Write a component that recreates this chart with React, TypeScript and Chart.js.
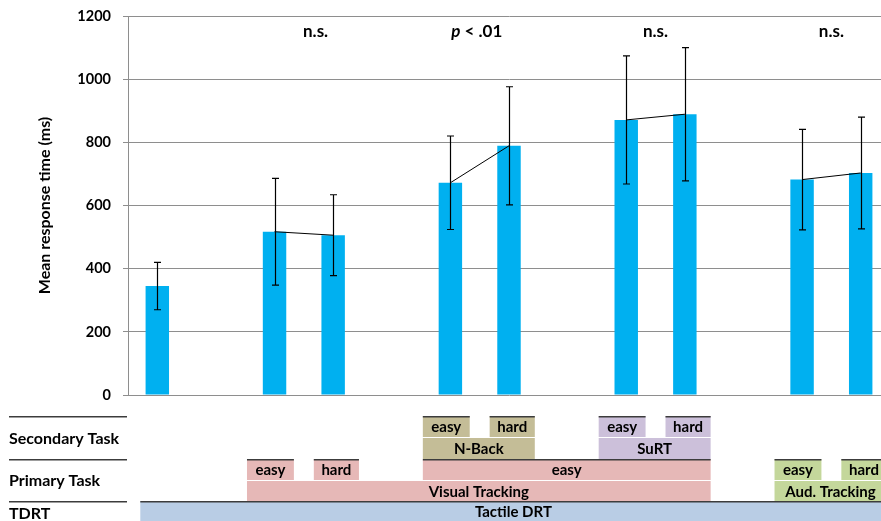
import React, { useEffect, useRef } from "react";
import { Chart, registerables } from "chart.js";

Chart.register(...registerables);

// ---------- data ----------
const categories = [
  "TDRT only",
  "",
  "VT easy",
  "VT hard",
  "",
  "N-Back easy",
  "N-Back hard",
  "",
  "SuRT easy",
  "SuRT hard",
  "",
  "AT easy",
  "AT hard",
];
const meanRT: (number | null)[] = [345, null, 517, 506, null, 672, 789, null, 871, 889, null, 682, 703];
const sdRT: (number | null)[] = [75, null, 169, 128, null, 148, 187, null, 203, 211, null, 159, 177];
const pairs: [number, number][] = [
  [2, 3],
  [5, 6],
  [8, 9],
  [11, 12],
];
const pairTests = ["n.s.", "p < .01", "n.s.", "n.s."];
const testLabelX = [2.7, 5.45, 8.5, 11.5];
const testLabelY = 1150;

const yTicks = [0, 200, 400, 600, 800, 1000, 1200];
const yTitle = "Mean response time (ms)";

const rowLabels = ["Secondary Task", "Primary Task", "TDRT"];

type Box = { label: string; from: number; to: number; color: string };
const secondaryLevels: Box[] = [
  { label: "easy", from: 5, to: 5, color: "#c4bd97" },
  { label: "hard", from: 6, to: 6, color: "#c4bd97" },
  { label: "easy", from: 8, to: 8, color: "#ccc0da" },
  { label: "hard", from: 9, to: 9, color: "#ccc0da" },
];
const secondaryTasks: Box[] = [
  { label: "N-Back", from: 5, to: 6, color: "#c4bd97" },
  { label: "SuRT", from: 8, to: 9, color: "#ccc0da" },
];
const primaryLevels: Box[] = [
  { label: "easy", from: 2, to: 2, color: "#e6b8b7" },
  { label: "hard", from: 3, to: 3, color: "#e6b8b7" },
  { label: "easy", from: 5, to: 9, color: "#e6b8b7" },
  { label: "easy", from: 11, to: 11, color: "#c4d79b" },
  { label: "hard", from: 12, to: 12, color: "#c4d79b" },
];
const primaryTasks: Box[] = [
  { label: "Visual Tracking", from: 2, to: 9, color: "#e6b8b7" },
  { label: "Aud. Tracking", from: 11, to: 12, color: "#c4d79b" },
];
const tdrtTasks: Box[] = [{ label: "Tactile DRT", from: 0, to: 12, color: "#b9cde5" }];

// ---------- styles ----------
const FONT = "Lato";
const BAR_COLOR = "#00b0f0";
const GRID_COLOR = "#8e8e8e";
const BOX_FONT = `bold 15px ${FONT}`;
const ROW_FONT = `bold 16px ${FONT}`;
const ANNO_SIZE = 17;
const LINE_DARK = "#3c3c3c";

const lineData = meanRT.map((v, i) => (pairs.some((p) => p.includes(i)) ? v : null));

const errorBarPlugin = {
  id: "errorBars",
  afterDatasetsDraw(chart: any) {
    const ctx = chart.ctx;
    const meta = chart.getDatasetMeta(0);
    const y = chart.scales.y;
    ctx.save();
    ctx.strokeStyle = "#000";
    ctx.lineWidth = 1.2;
    meta.data.forEach((el: any, i: number) => {
      const m = meanRT[i];
      const s = sdRT[i];
      if (m == null || s == null) return;
      const x = Math.round(el.x) + 0.5;
      const yt = y.getPixelForValue(m + s);
      const yb = y.getPixelForValue(m - s);
      ctx.beginPath();
      ctx.moveTo(x, yt);
      ctx.lineTo(x, yb);
      ctx.moveTo(x - 3.5, yt);
      ctx.lineTo(x + 3.5, yt);
      ctx.moveTo(x - 3.5, yb);
      ctx.lineTo(x + 3.5, yb);
      ctx.stroke();
    });
    ctx.restore();
  },
};

const annotationPlugin = {
  id: "annotations",
  afterDraw(chart: any) {
    const ctx = chart.ctx;
    const xs = chart.scales.x;
    const ys = chart.scales.y;
    ctx.save();
    ctx.fillStyle = "#000";
    ctx.textBaseline = "middle";
    const yPix = ys.getPixelForValue(testLabelY);
    const reg = `bold ${ANNO_SIZE}px ${FONT}`;
    const ital = `italic bold ${ANNO_SIZE}px ${FONT}`;
    pairTests.forEach((t, k) => {
      const cx = xs.getPixelForValue(testLabelX[k]);
      if (t.startsWith("p ")) {
        const rest = t.slice(1);
        ctx.font = ital;
        const wp = ctx.measureText("p").width;
        ctx.font = reg;
        const wr = ctx.measureText(rest).width;
        const x0 = cx - (wp + wr) / 2;
        ctx.textAlign = "left";
        ctx.font = ital;
        ctx.fillText("p", x0, yPix);
        ctx.font = reg;
        ctx.fillText(rest, x0 + wp, yPix);
      } else {
        ctx.font = reg;
        ctx.textAlign = "center";
        ctx.fillText(t, cx, yPix);
      }
    });
    ctx.restore();
  },
};

const tablePlugin = {
  id: "taskTable",
  afterDraw(chart: any) {
    const ctx = chart.ctx;
    const xs = chart.scales.x;
    const base = chart.chartArea.bottom;
    const H = chart.height;
    const outerL = 0.47;
    const outerR = 0.44;
    const gapHalf = 0.17;

    const edges = (b: Box, row: Box[], leftPad = outerL) => {
      const hasLeft = row.some((o) => o !== b && o.to === b.from - 1);
      const hasRight = row.some((o) => o !== b && o.from === b.to + 1);
      const l = hasLeft ? b.from - 0.5 + gapHalf : b.from - leftPad;
      const r = hasRight ? b.to + 0.5 - gapHalf : b.to + outerR;
      return [xs.getPixelForValue(l), xs.getPixelForValue(r)];
    };

    const drawRow = (row: Box[], top: number, bottom: number, topLine: boolean, leftPad?: number) => {
      row.forEach((b) => {
        const [l, r] = edges(b, row, leftPad);
        ctx.fillStyle = b.color;
        ctx.fillRect(l, top, r - l, bottom - top);
        if (topLine) {
          ctx.fillStyle = LINE_DARK;
          ctx.fillRect(l, top, r - l, 1.5);
        }
        ctx.fillStyle = "#000";
        ctx.font = BOX_FONT;
        ctx.textAlign = "center";
        ctx.textBaseline = "middle";
        ctx.fillText(b.label, (l + r) / 2, (top + bottom) / 2 + 1);
      });
    };

    ctx.save();
    const secTop = base + 21;
    const secMid = base + 42.5;
    const priTop = base + 64;
    const priMid = base + 85.5;
    const tdTop = base + 106;

    drawRow(secondaryLevels, secTop, secMid - 0.5, true);
    drawRow(secondaryTasks, secMid + 0.5, priTop, false);
    drawRow(primaryLevels, priTop, priMid - 0.5, true);
    drawRow(primaryTasks, priMid + 0.5, tdTop, false);
    drawRow(tdrtTasks, tdTop, H, true, 0.29);

    // left row separators
    ctx.fillStyle = LINE_DARK;
    [secTop, priTop, tdTop].forEach((yy) => ctx.fillRect(9, yy, 118, 1.5));

    // row labels
    ctx.fillStyle = "#000";
    ctx.font = ROW_FONT;
    ctx.textAlign = "left";
    ctx.textBaseline = "middle";
    const labelY = [(secTop + priTop) / 2 + 1, (priTop + tdTop) / 2 + 1, tdTop + 13];
    rowLabels.forEach((t, i) => ctx.fillText(t, 9, labelY[i]));
    ctx.restore();
  },
};

export default function App() {
  const ref = useRef<HTMLCanvasElement>(null);

  useEffect(() => {
    if (!ref.current) return;
    Chart.defaults.font.family = FONT;
    const chart = new Chart(ref.current, {
      type: "bar",
      data: {
        labels: categories,
        datasets: [
          {
            type: "bar",
            data: meanRT as any,
            backgroundColor: BAR_COLOR,
            borderWidth: 0,
            barPercentage: 0.8,
            categoryPercentage: 0.5,
            order: 1,
          },
          {
            type: "line",
            data: lineData as any,
            borderColor: "#000",
            borderWidth: 1,
            pointRadius: 0,
            spanGaps: false,
            order: 0,
          } as any,
        ],
      },
      options: {
        animation: false,
        responsive: false,
        events: [],
        layout: { padding: { top: 16, bottom: 126, left: 0, right: 0 } },
        plugins: { legend: { display: false }, tooltip: { enabled: false } },
        scales: {
          x: { display: false },
          y: {
            min: 0,
            max: 1200,
            afterFit: (s: any) => {
              s.width = 128;
              s.paddingTop = 0;
              s.paddingBottom = 0;
            },
            afterBuildTicks: (s: any) => {
              s.ticks = yTicks.map((v) => ({ value: v }));
            },
            ticks: {
              color: "#000",
              font: { family: FONT, size: 14.5, weight: "bold" },
              padding: 12,
              callback: (v: any) => String(v),
            },
            grid: { color: GRID_COLOR, lineWidth: 1, tickLength: 5 },
            border: { color: GRID_COLOR, width: 1 },
            title: {
              display: true,
              text: yTitle,
              color: "#000",
              font: { family: FONT, size: 16, weight: "bold" },
              padding: { top: 35, bottom: 0 },
            },
          },
        },
      } as any,
      plugins: [errorBarPlugin, annotationPlugin, tablePlugin],
    });
    return () => chart.destroy();
  }, []);

  return (
    <div
      style={{
        position: "fixed",
        left: 0,
        top: 0,
        width: 881,
        height: 521,
        overflow: "hidden",
        background: "#fff",
      }}
    >
      <canvas ref={ref} width={890} height={521} style={{ display: "block" }} />
    </div>
  );
}
